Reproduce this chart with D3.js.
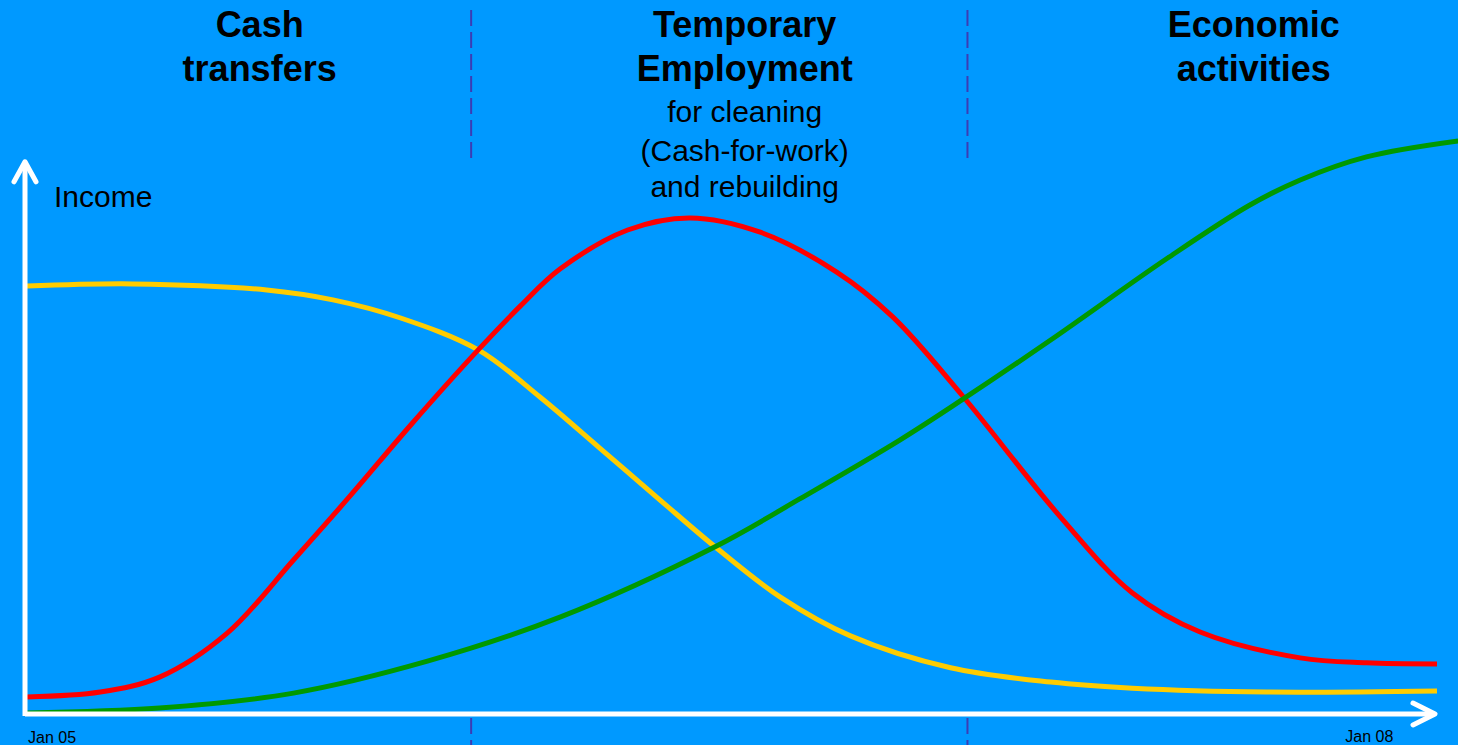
<!DOCTYPE html>
<html>
<head>
<meta charset="utf-8">
<script src="https://cdn.jsdelivr.net/npm/d3@7.9.0/dist/d3.min.js"></script>
<style>
  html, body { margin: 0; padding: 0; background: #0099ff; overflow: hidden; }
  svg { display: block; font-family: "Liberation Sans", Arial, sans-serif; }
</style>
</head>
<body>
<svg id="chart" width="1458" height="745"></svg>
<script>
// phase of recovery (0 = Jan 05, 100 = Jan 08) vs relative income
const cashTransfers = [
  [0, 77.8], [7.5, 78.2], [17, 77.1], [21.7, 75.3], [26.5, 72], [32, 66.2],
  [36.4, 57.6], [40.6, 48.4], [44.9, 38.9], [48.8, 30.4], [53.4, 21.3],
  [58.4, 14.2], [65.5, 8.4], [72.6, 5.8], [78.4, 4.7], [87.9, 4], [100, 4.2]
];
const temporaryEmployment = [
  [0, 3.1], [5.2, 4], [9.4, 6.7], [14.2, 14.7], [18.9, 28], [22.9, 39.6],
  [27.2, 52.5], [32, 66.2], [35, 74.2], [37.8, 80.9], [42.6, 88], [47, 90.2],
  [52, 87.6], [57.4, 80.4], [61.4, 72.2], [66.3, 58], [73.3, 35.8], [78.4, 22],
  [83.2, 14.9], [90.3, 10.2], [95, 9.3], [100, 9.1]
];
const economicActivities = [
  [0, 0.2], [9.4, 1.1], [18.9, 3.8], [28.4, 9.6], [37.8, 17.6], [48.8, 30.4],
  [54.8, 39.1], [61.9, 49.8], [66.3, 57.1], [72.6, 68], [80.9, 82.9],
  [86.7, 92.5], [90.3, 97.1], [95, 101.3], [101.5, 104.2]
];
const phaseBreaks = [31.5, 66.7];
const tickLabels = ['Jan 05', 'Jan 08'];
const phaseTitles = [
  { at: 16.5, bold: ['Cash', 'transfers'], sub: [] },
  { at: 50.9, bold: ['Temporary', 'Employment'], sub: ['for cleaning', '(Cash-for-work)', 'and rebuilding'] },
  { at: 87, bold: ['Economic', 'activities'], sub: [] }
];

const svg = d3.select('#chart');
const x = d3.scaleLinear().domain([0, 100]).range([27, 1437]);
const y = d3.scaleLinear().domain([0, 100]).range([714, 164]);

svg.append('rect').attr('width', 1458).attr('height', 745).attr('fill', '#0099ff');

// dashed phase separators (top and below axis)
phaseBreaks.forEach((b) => {
  [[10, 158], [718, 745]].forEach(([y0, y1]) => {
    svg.append('line')
      .attr('x1', x(b)).attr('x2', x(b))
      .attr('y1', y0).attr('y2', y1)
      .attr('stroke', '#3c3cb4')
      .attr('stroke-width', 2)
      .attr('stroke-dasharray', '16 6');
  });
});

// titles
phaseTitles.forEach((t) => {
  t.bold.forEach((line, i) => {
    svg.append('text')
      .attr('x', x(t.at)).attr('y', 37 + i * 44)
      .attr('text-anchor', 'middle')
      .attr('font-weight', 'bold')
      .attr('font-size', 36)
      .attr('fill', '#000')
      .text(line);
  });
  const subY = [122, 161, 197];
  t.sub.forEach((line, i) => {
    svg.append('text')
      .attr('x', x(t.at)).attr('y', subY[i])
      .attr('text-anchor', 'middle')
      .attr('font-size', 30)
      .attr('fill', '#000')
      .text(line);
  });
});

// curves
const line = d3.line()
  .x((d) => x(d[0]))
  .y((d) => y(d[1]))
  .curve(d3.curveCatmullRom.alpha(0.5));

[
  [cashTransfers, '#ffcc00'],
  [temporaryEmployment, '#ff0000'],
  [economicActivities, '#009900']
].forEach(([data, color]) => {
  svg.append('path')
    .attr('d', line(data))
    .attr('fill', 'none')
    .attr('stroke', color)
    .attr('stroke-width', 5);
});

// axes with arrow heads
const axisG = svg.append('g')
  .attr('fill', 'none')
  .attr('stroke', '#fff')
  .attr('stroke-width', 5)
  .attr('stroke-linecap', 'round')
  .attr('stroke-linejoin', 'round');

const ox = x(0) - 2, oy = y(0);
axisG.append('path').attr('d', `M${ox},${oy}H${x(100) - 2}`).attr('stroke-linecap', 'butt');
axisG.append('path').attr('d', `M${x(100) - 24},${oy - 11}L${x(100) - 2},${oy}L${x(100) - 24},${oy + 11}`);
axisG.append('path').attr('d', `M${ox},${oy + 2}V${y(100.4)}`).attr('stroke-linecap', 'butt');
axisG.append('path').attr('d', `M${ox - 11},${y(100.4) + 20}L${ox},${y(100.4)}L${ox + 11},${y(100.4) + 20}`);

svg.append('text')
  .attr('x', 54).attr('y', 207)
  .attr('font-size', 30)
  .attr('fill', '#000')
  .text('Income');

svg.append('text')
  .attr('x', x(0) + 1).attr('y', 743)
  .attr('font-size', 16)
  .attr('fill', '#000')
  .text(tickLabels[0]);

svg.append('text')
  .attr('x', x(95.2)).attr('y', 742)
  .attr('text-anchor', 'middle')
  .attr('font-size', 16)
  .attr('fill', '#000')
  .text(tickLabels[1]);
</script>
</body>
</html>
